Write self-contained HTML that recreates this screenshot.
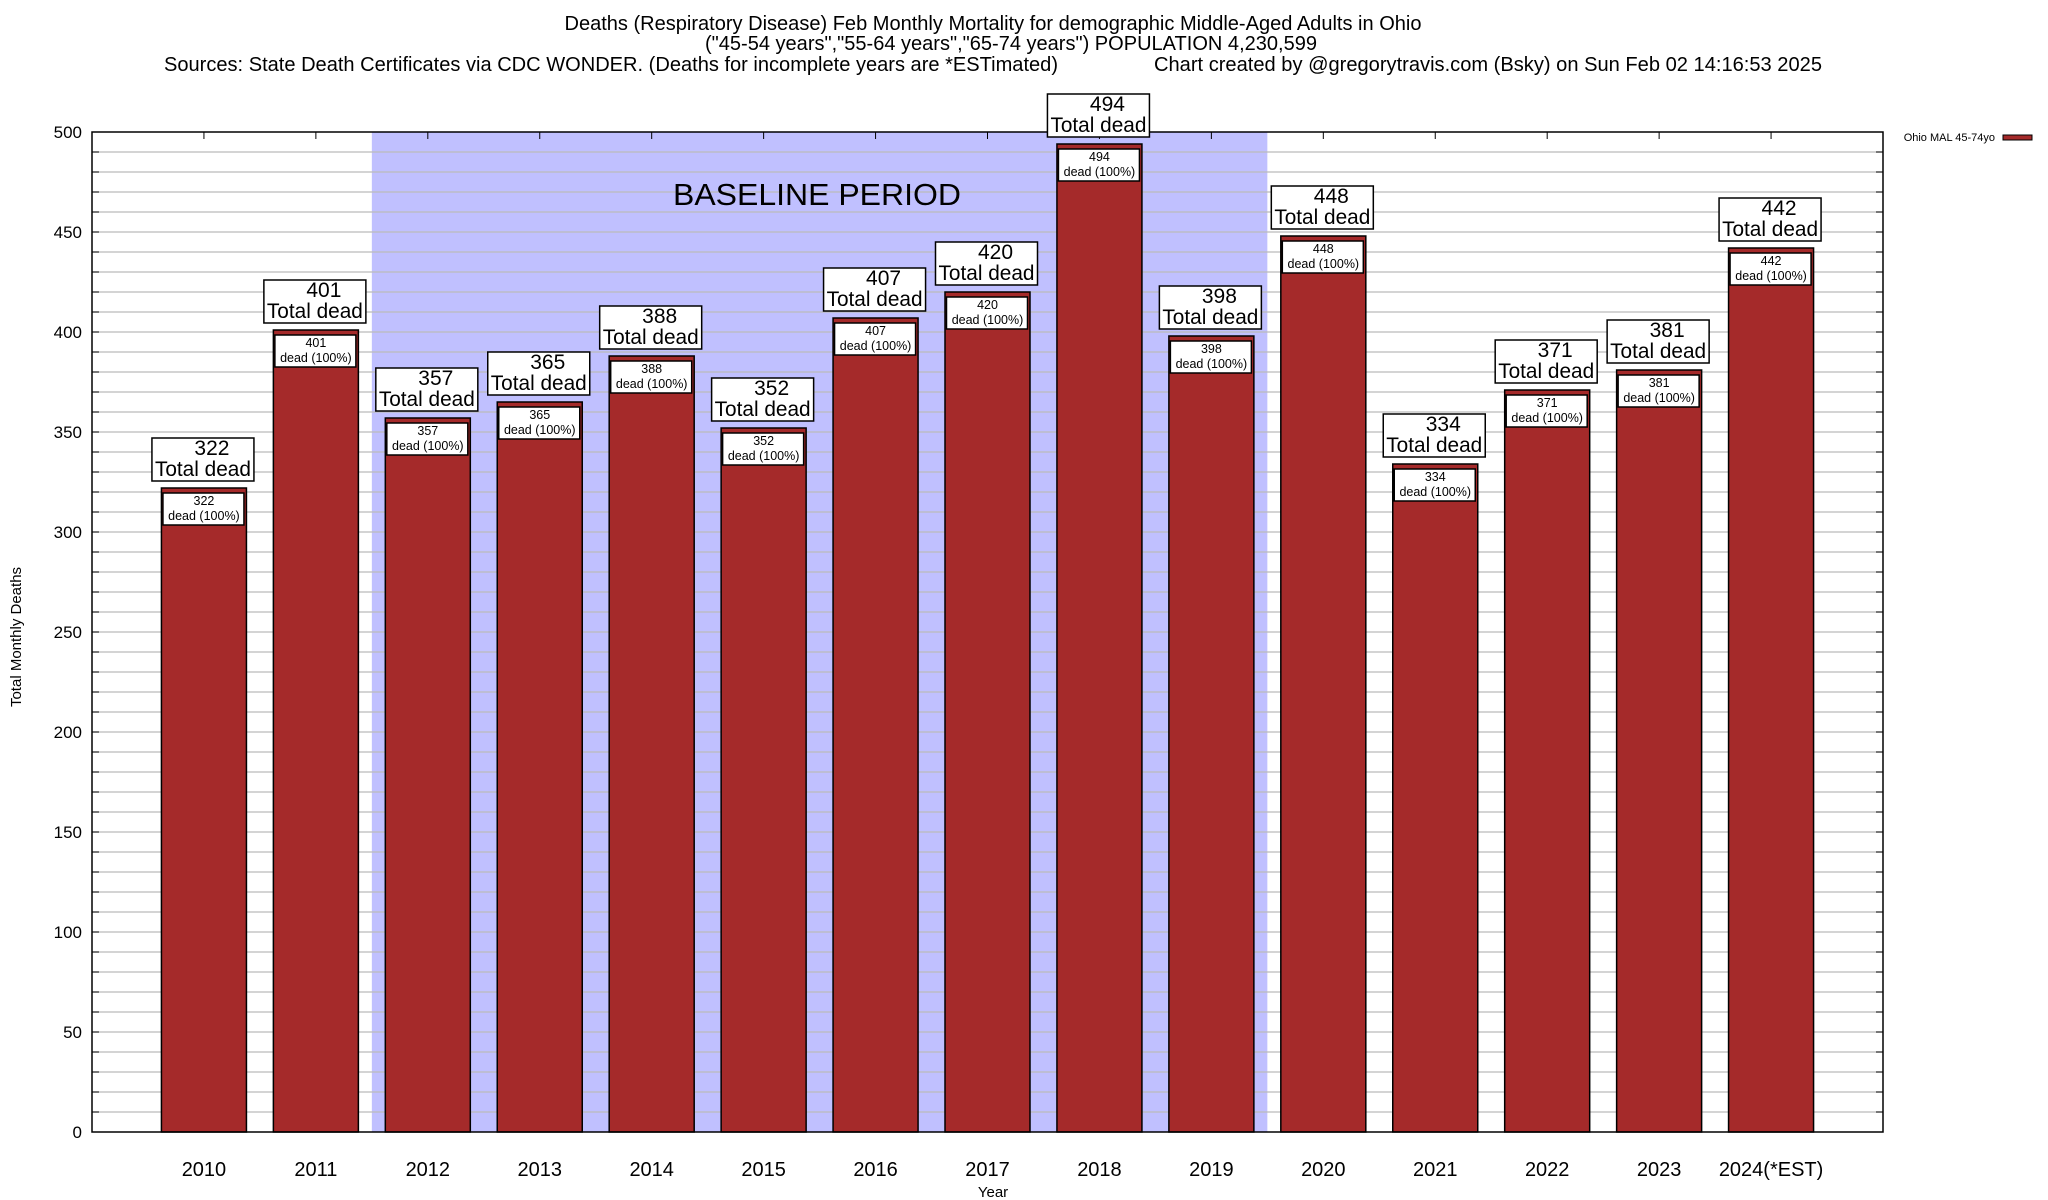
<!DOCTYPE html>
<html><head><meta charset="utf-8">
<style>
html,body{margin:0;padding:0;background:#fff;}
svg{display:block;font-family:"Liberation Sans",sans-serif;}
</style></head>
<body>
<svg id="chart" width="2048" height="1200" viewBox="0 0 2048 1200" xmlns="http://www.w3.org/2000/svg">
<g>
<text x="993" y="30" font-size="20" text-anchor="middle" textLength="857" lengthAdjust="spacingAndGlyphs">Deaths (Respiratory Disease) Feb Monthly Mortality for demographic Middle-Aged Adults in Ohio</text>
<text x="1011" y="50" font-size="20" text-anchor="middle" textLength="612" lengthAdjust="spacingAndGlyphs">("45-54 years","55-64 years","65-74 years") POPULATION 4,230,599</text>
<text x="164" y="71" font-size="20" textLength="894" lengthAdjust="spacingAndGlyphs">Sources: State Death Certificates via CDC WONDER. (Deaths for incomplete years are *ESTimated)</text>
<text x="1154" y="71" font-size="20" textLength="668" lengthAdjust="spacingAndGlyphs">Chart created by @gregorytravis.com (Bsky) on Sun Feb 02 14:16:53 2025</text>
</g>
<g id="plot"></g>
<text x="0" y="0" font-size="15" text-anchor="middle" transform="translate(21,637) rotate(-90)">Total Monthly Deaths</text>
<text x="993" y="1197" font-size="15" text-anchor="middle">Year</text>
<g>
<text x="1995" y="141" font-size="11" text-anchor="end">Ohio MAL 45-74yo</text>
<rect x="2003" y="135" width="29" height="5" fill="#a52a2a" stroke="#000" stroke-width="1"/>
</g>
</svg>
<script>
const categories = ["2010","2011","2012","2013","2014","2015","2016","2017","2018","2019","2020","2021","2022","2023","2024(*EST)"];
const deaths = [322,401,357,365,388,352,407,420,494,398,448,334,371,381,442];
const yTicks = [0,50,100,150,200,250,300,350,400,450,500];
const baselineRange = [1.5, 9.5];

const NS = "http://www.w3.org/2000/svg";
const L = 92, R = 1883, T = 132, B = 1132;
const yMax = 500;
function xPos(i){ return L + (i + 1) * (R - L) / 16; }
function yPos(v){ return B - v * (B - T) / yMax; }
const plot = document.getElementById('plot');
function mk(tag, attrs, parent){
  const e = document.createElementNS(NS, tag);
  for (const k in attrs) e.setAttribute(k, attrs[k]);
  (parent || plot).appendChild(e);
  return e;
}
const shade = mk('rect', {x: xPos(baselineRange[0]), y: T, width: xPos(baselineRange[1]) - xPos(baselineRange[0]), height: B - T, fill: '#c0c0ff'});


for (let v = 10; v < yMax; v += 10) {
  const g = mk('line', {x1: L, x2: R, y1: yPos(v), y2: yPos(v), stroke: '#bbbbbb', 'stroke-width': 1.3});
  
  
  const t1 = mk('line', {x1: L, x2: L + 7, y1: yPos(v), y2: yPos(v), stroke: '#000', 'stroke-width': 1});
  
  
  const t2 = mk('line', {x1: R - 7, x2: R, y1: yPos(v), y2: yPos(v), stroke: '#000', 'stroke-width': 1});
  
  
}
const bl = mk('text', {x: 817, y: 205, 'font-size': 31, 'text-anchor': 'middle', textLength: 288, lengthAdjust: 'spacingAndGlyphs'});


bl.textContent = 'BASELINE PERIOD';
yTicks.forEach(v => {
  const t = mk('text', {x: 82, y: yPos(v) + 6, 'font-size': 17, 'text-anchor': 'end'});
  
  
  t.textContent = v;
});
const bw = 85;
categories.forEach((c, i) => {
  const cx = xPos(i), top = yPos(deaths[i]);
  const bar = mk('rect', {x: cx - bw/2, y: top, width: bw, height: B - top, fill: '#a52a2a', stroke: '#000', 'stroke-width': 1.5});
  
  
  const tk = mk('line', {x1: cx, x2: cx, y1: T, y2: T + 7, stroke: '#000', 'stroke-width': 1});
  
  
  const xl = mk('text', {x: cx, y: 1176, 'font-size': 20, 'text-anchor': 'middle'});
  
  
  xl.textContent = c;
  const ib = mk('rect', {x: cx - 41, y: top + 5, width: 81, height: 32, fill: '#fff', stroke: '#000', 'stroke-width': 1.5});
  
  
  const it1 = mk('text', {x: cx, y: top + 17, 'font-size': 12.5, 'text-anchor': 'middle'});
  
  
  it1.textContent = deaths[i];
  const it2 = mk('text', {x: cx, y: top + 32, 'font-size': 12.5, 'text-anchor': 'middle'});
  
  
  it2.textContent = 'dead (100%)';
});
const fr = mk('rect', {x: L, y: T, width: R - L, height: B - T, fill: 'none', stroke: '#000', 'stroke-width': 1.5});


categories.forEach((c, i) => {
  const cx = xPos(i), top = yPos(deaths[i]);
  const bb = mk('rect', {x: cx - 52, y: top - 50, width: 102, height: 43, fill: '#fff', stroke: '#000', 'stroke-width': 1.5});
  
  
  const t1 = mk('text', {x: cx + 8, y: top - 33, 'font-size': 21, 'text-anchor': 'middle'});
  
  
  t1.textContent = deaths[i];
  const t2 = mk('text', {x: cx - 1, y: top - 12, 'font-size': 21, 'text-anchor': 'middle', textLength: 96, lengthAdjust: 'spacingAndGlyphs'});
  
  
  t2.textContent = 'Total dead';
});
</script>
</body></html>
